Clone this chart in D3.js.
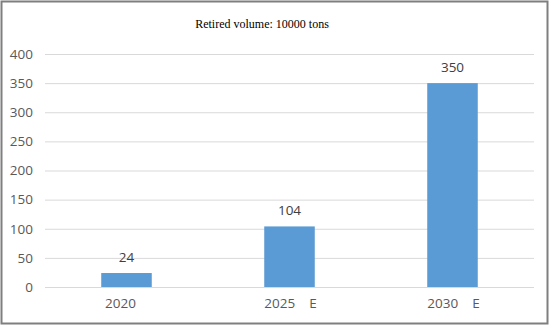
<!DOCTYPE html>
<html><head><meta charset="utf-8">
<script src="https://cdn.jsdelivr.net/npm/d3@7"></script>
<style>body{margin:0;background:#fff}svg{display:block}</style>
</head><body>
<svg id="c" width="549" height="325"></svg>
<script>
const categories = ["2020", "2025\u00a0\u00a0\u00a0\u00a0E", "2030\u00a0\u00a0\u00a0\u00a0E"];
const values = [24, 104, 350];
const yTicks = [0, 50, 100, 150, 200, 250, 300, 350, 400];
const title = "Retired volume: 10000 tons";

const svg = d3.select("#c");
const W = 549, H = 325;
const m = {left: 45, right: 15, top: 54, bottom: 38};
svg.append("rect").attr("x", 1.5).attr("y", 1.5).attr("width", W - 3).attr("height", H - 3)
  .attr("fill", "#fff").attr("stroke", "#7f7f7f").attr("stroke-width", 2);

const x = d3.scaleBand().domain(categories).range([m.left, W - m.right]).paddingInner(0.69).paddingOuter(0.345);
const y = d3.scaleLinear().domain([0, 400]).range([H - m.bottom, m.top]);

svg.append("text").attr("x", 262).attr("y", 28).attr("text-anchor", "middle")
  .attr("font-family", "'Liberation Serif','Times New Roman',serif").attr("font-size", 12).attr("fill", "#000")
  .text(title);

const ga = svg.append("g").attr("transform", `translate(${m.left},0)`)
  .call(d3.axisLeft(y).tickValues(yTicks).tickSize(-(W - m.left - m.right)).tickPadding(12));
ga.select(".domain").remove();
ga.selectAll("line").attr("stroke", "#d9d9d9");
ga.selectAll("text").attr("font-family", "'Open Sans',sans-serif").attr("font-size", 13.5).attr("fill", "#595959");

svg.selectAll("rect.bar").data(values).join("rect").attr("class", "bar")
  .attr("x", (d, i) => x(categories[i])).attr("width", x.bandwidth())
  .attr("y", d => y(d)).attr("height", d => y(0) - y(d)).attr("fill", "#5b9bd5");

svg.selectAll("text.val").data(values).join("text").attr("class", "val")
  .attr("x", (d, i) => x(categories[i]) + x.bandwidth() / 2).attr("y", d => y(d) - 11)
  .attr("text-anchor", "middle").attr("font-family", "'Open Sans',sans-serif").attr("font-size", 13.5).attr("fill", "#404040")
  .text(d => d);

const gx = svg.append("g").attr("transform", `translate(0,${H - m.bottom})`)
  .call(d3.axisBottom(x).tickSize(0).tickPadding(11));
gx.select(".domain").remove();
gx.selectAll("text").attr("font-family", "'Open Sans',sans-serif").attr("font-size", 13.5).attr("fill", "#595959")
  .attr("dx", (d, i) => i === 0 ? -6 : 1);
</script>
</body></html>
